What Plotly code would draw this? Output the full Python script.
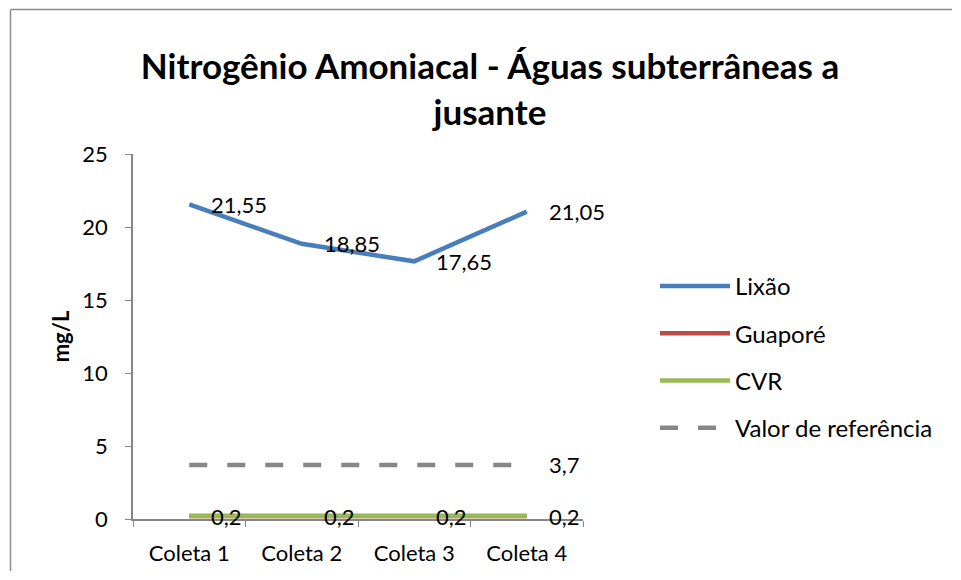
import plotly.graph_objects as go

categories = ["Coleta 1", "Coleta 2", "Coleta 3", "Coleta 4"]
lixao = [21.55, 18.85, 17.65, 21.05]
guapore = [0.2, 0.2, 0.2, 0.2]
cvr = [0.2, 0.2, 0.2, 0.2]
referencia = [3.7, 3.7, 3.7, 3.7]
y_ticks = [0, 5, 10, 15, 20, 25]

FONT = "Lato"
FS = 22

def fmt(v):
    return ("%g" % v).replace(".", ",")

fig = go.Figure()
fig.add_trace(go.Scatter(x=categories, y=lixao, name="Lixão", mode="lines",
                         line=dict(color="#4A7EBB", width=4.5), legendgroup="a"))
fig.add_trace(go.Scatter(x=categories, y=guapore, name="Guaporé", mode="lines",
                         line=dict(color="#BE4B48", width=4.5), legendgroup="b"))
fig.add_trace(go.Scatter(x=categories, y=cvr, name="CVR", mode="lines",
                         line=dict(color="#98B954", width=4.5), legendgroup="c"))
fig.add_trace(go.Scatter(x=categories, y=referencia, name="Valor de referência", mode="lines",
                         line=dict(color="#868686", width=4.5, dash="18px,20px"), legendgroup="d"))

annotations = []
for series in (lixao, cvr):
    for c, v in zip(categories, series):
        annotations.append(dict(x=c, y=v, text=fmt(v), showarrow=False, xanchor="left",
                                yanchor="middle", xshift=20,
                                font=dict(family=FONT, size=FS, color="#000000")))
annotations.append(dict(x=categories[-1], y=referencia[-1], text=fmt(referencia[-1]),
                        showarrow=False, xanchor="left", yanchor="middle", xshift=20,
                        font=dict(family=FONT, size=FS, color="#000000")))

# page has an 8px body margin: figure coordinates = screen - 8
W, H = 945, 564
L, R, T, B = 125, 575, 146, 511
def px_x(p):
    return (p - L) / (R - L)
def px_y(p):
    return (B - p) / (B - T)

border = dict(color="#8C8C8C", width=1.5)

fig.update_layout(
    width=W, height=H,
    margin=dict(l=L, r=W - R, t=T, b=H - B, autoexpand=False),
    paper_bgcolor="white", plot_bgcolor="white",
    font=dict(family=FONT, size=FS, color="#000000"),
    title=dict(text="<b>Nitrogênio Amoniacal - Águas subterrâneas a<br>jusante</b>",
               xref="container", x=482 / W, xanchor="center",
               yref="container", y=1 - 71 / H, yanchor="middle",
               font=dict(family=FONT, size=35, color="#000000")),
    showlegend=True,
    legend=dict(x=px_x(647), y=px_y(256), xanchor="left", yanchor="top",
                font=dict(family=FONT, size=24), itemwidth=70, tracegroupgap=13,
                bgcolor="rgba(0,0,0,0)"),
    xaxis=dict(type="category", range=[-0.5, 3.5], showgrid=False, zeroline=False,
               automargin=False,
               showline=True, linecolor="#868686", linewidth=1.5,
               ticks="outside", tickson="boundaries", ticklen=6, tickcolor="#868686",
               ticklabelstandoff=14,
               tickfont=dict(family=FONT, size=FS)),
    yaxis=dict(range=[0, 25], tickvals=y_ticks, showgrid=False, zeroline=False,
               automargin=False,
               showline=True, linecolor="#868686", linewidth=1.5,
               ticks="outside", ticklen=6, tickcolor="#868686",
               ticklabelstandoff=13,
               tickfont=dict(family=FONT, size=FS),
               title=dict(text="<b>mg/L</b>", font=dict(family=FONT, size=FS), standoff=7)),
    annotations=annotations,
    shapes=[
        dict(type="line", xref="paper", yref="paper",
             x0=px_x(2.5), x1=px_x(2.5), y0=px_y(H - 1), y1=px_y(1.5), line=border),
        dict(type="line", xref="paper", yref="paper",
             x0=px_x(2.5), x1=px_x(W - 1), y0=px_y(1.5), y1=px_y(1.5), line=border),
    ],
)

fig.write_html("out.html")
